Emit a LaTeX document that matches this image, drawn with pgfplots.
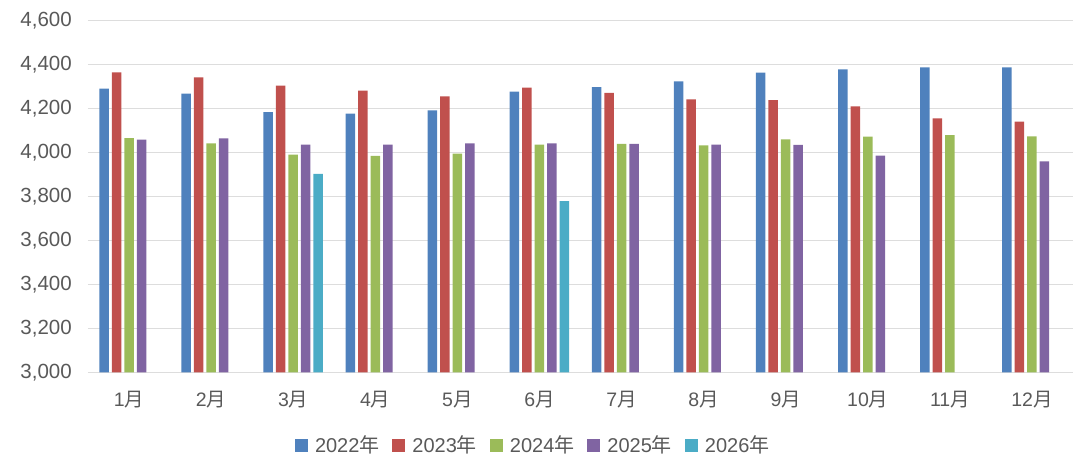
\documentclass[border=0pt]{standalone}
\usepackage{pgfplots}
\pgfplotsset{compat=1.18}
\usepackage{fontspec}
\setmainfont{Liberation Sans}
\newfontfamily\cjk{Noto Sans CJK SC}
\definecolor{c1}{HTML}{4F81BD}
\definecolor{c2}{HTML}{C0504D}
\definecolor{c3}{HTML}{9BBB59}
\definecolor{c4}{HTML}{8064A2}
\definecolor{c5}{HTML}{4BACC6}
\definecolor{tgray}{HTML}{595959}
\definecolor{ggray}{HTML}{DDDDDD}
\begin{document}
\begin{tikzpicture}
\path[use as bounding box] (-88pt,-98.7pt) rectangle (992pt,372.3pt);
\begin{axis}[
  at={(0pt,0pt)}, anchor=south west,
  scale only axis, width=985pt, height=351.6pt,
  ybar=3pt, bar width=9.5pt,
  xmin=0.5, xmax=12.5, ymin=3000, ymax=4600,
  ytick={3000,3200,...,4600},
  xtick={1,...,12},
  xticklabels={1{\cjk 月},2{\cjk 月},3{\cjk 月},4{\cjk 月},5{\cjk 月},6{\cjk 月},7{\cjk 月},8{\cjk 月},9{\cjk 月},10{\cjk 月},11{\cjk 月},12{\cjk 月}},
  axis line style={draw=none},
  major tick length=0pt,
  ymajorgrids, grid style={ggray, line width=1.2pt},
  /pgf/number format/assume math mode=true,
  /pgf/number format/1000 sep={,},
  yticklabel style={anchor=east, inner sep=0pt, xshift=-16pt, font=\fontsize{20.5}{24}\selectfont, text=tgray},
  xticklabel style={anchor=north, inner sep=0pt, yshift=-19pt, font=\fontsize{19.5}{23}\selectfont, text=tgray},
  legend columns=-1,
  legend style={at={(0.451,-0.207)}, anchor=center, draw=none, fill=none,
    font=\fontsize{20}{24}\selectfont, text=tgray,
    nodes={inner sep=0pt},
    /tikz/every odd column/.append style={column sep=7pt},
    /tikz/every even column/.append style={column sep=13pt}},
  sq/.style={legend image code/.code={\fill[##1, draw=none] (0pt,-6.5pt) rectangle (13pt,6.5pt);}},
]
\addplot[fill=c1, draw=none, sq] coordinates {(1,4291) (2,4268) (3,4184) (4,4177) (5,4192) (6,4277) (7,4298) (8,4324) (9,4364) (10,4379) (11,4388) (12,4388)};
\addplot[fill=c2, draw=none, sq] coordinates {(1,4365) (2,4342) (3,4304) (4,4282) (5,4256) (6,4295) (7,4271) (8,4242) (9,4239) (10,4210) (11,4156) (12,4141)};
\addplot[fill=c3, draw=none, sq] coordinates {(1,4066) (2,4042) (3,3991) (4,3985) (5,3995) (6,4036) (7,4039) (8,4033) (9,4060) (10,4073) (11,4079) (12,4074)};
\addplot[fill=c4, draw=none, sq] coordinates {(1,4059) (2,4065) (3,4036) (4,4036) (5,4042) (6,4042) (7,4039) (8,4036) (9,4035) (10,3986) (12,3960)};
\addplot[fill=c5, draw=none, sq] coordinates {(3,3903) (6,3779)};
\legend{2022{\cjk 年},2023{\cjk 年},2024{\cjk 年},2025{\cjk 年},2026{\cjk 年}}
\end{axis}
\end{tikzpicture}
\end{document}
